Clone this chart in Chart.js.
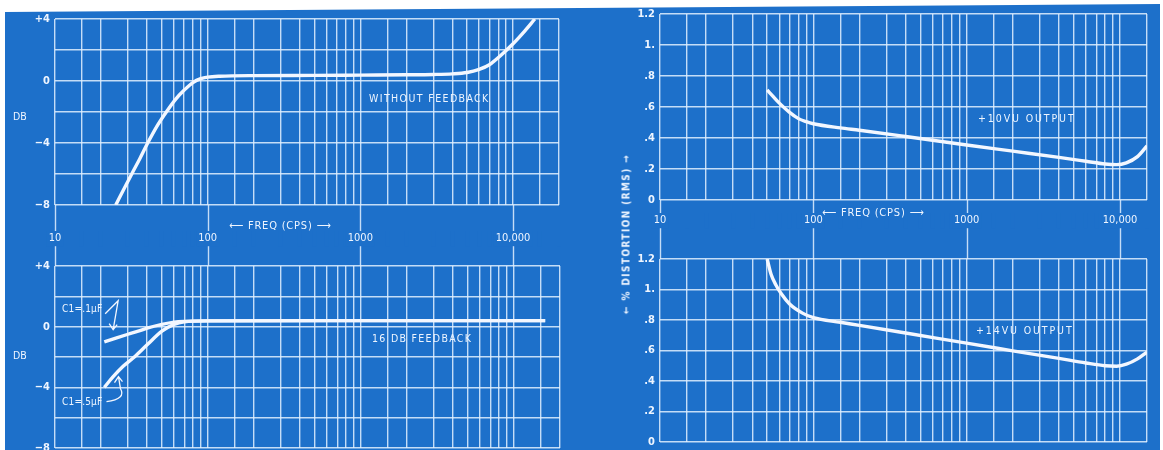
<!DOCTYPE html>
<html>
<head>
<meta charset="utf-8">
<script src="https://cdn.jsdelivr.net/npm/chart.js@4.4.1/dist/chart.umd.min.js"></script>
<style>
  html, body { margin: 0; padding: 0; background: #fff; }
  #page { position: relative; width: 1163px; height: 450px; overflow: hidden; background: #fff; }
  #sheet { position: absolute; left: 5px; top: 4px; width: 1155px; height: 446px; background: #1d70ca;
           clip-path: polygon(0 8px, 100% 0, 100% 100%, 0 100%); }
  .box { position: absolute; }
  .note { position: absolute; color: #eef5ff; font-family: 'DejaVu Sans Condensed', 'DejaVu Sans', sans-serif;
          font-size: 10.5px; white-space: nowrap; letter-spacing: 1px; }
</style>
</head>
<body>
<div id="page">
  <div id="sheet"></div>
  <div class="box" style="left:0;top:258px"><canvas id="bl" width="580" height="192"></canvas></div>
  <div class="box" style="left:0;top:0"><canvas id="tl" width="580" height="266"></canvas></div>
  <div class="box" style="left:580px;top:250px"><canvas id="br" width="583" height="200"></canvas></div>
  <div class="box" style="left:580px;top:0"><canvas id="tr" width="583" height="259"></canvas></div>

  <div class="note" style="left:13px;top:110px;letter-spacing:0">DB</div>
  <div class="note" style="left:13px;top:349px;letter-spacing:0">DB</div>
  <div class="note" style="left:369px;top:92px;letter-spacing:1.4px">WITHOUT FEEDBACK</div>
  <div class="note" style="left:372px;top:332px;letter-spacing:1.3px">16 DB FEEDBACK</div>
  <div class="note" style="left:62px;top:303px;font-size:10px;letter-spacing:0.2px">C1=.1µF</div>
  <div class="note" style="left:62px;top:396px;font-size:10px;letter-spacing:0.2px">C1=.5µF</div>
  <div class="note" style="left:229px;top:219px;font-size:11px;letter-spacing:0.8px">⟵ FREQ (CPS) ⟶</div>
  <div class="note" style="left:822px;top:206px;font-size:11px;letter-spacing:0.8px">⟵ FREQ (CPS) ⟶</div>
  <div class="note" style="left:978px;top:112px;letter-spacing:1.9px">+10VU OUTPUT</div>
  <div class="note" style="left:976px;top:324px;letter-spacing:1.9px">+14VU OUTPUT</div>
  <div class="note" style="left:626px;top:234px;font-size:10px;font-weight:bold;letter-spacing:1.4px;transform:translate(-50%,-50%) rotate(-90deg)">← % DISTORTION (RMS) →</div>
</div>

<script>
// gridlines: 1, 1.5, 2 ... 9 in each decade
const gridSteps = [1, 1.5, 2, 3, 4, 5, 6, 7, 8, 9];
const decades = [10, 100, 1000, 10000];
const freqLabels = { 10: '10', 100: '100', 1000: '1000', 10000: '10,000' };
const dbLabels = { '4': '+4', '0': '0', '-4': '−4', '-8': '−8' };
const distLabels = { '1.2': '1.2', '1': '1.', '0.8': '.8', '0.6': '.6', '0.4': '.4', '0.2': '.2', '0': '0' };

// response without feedback
const noFbFreq = [25, 28, 32, 36, 40, 47, 54, 62, 70, 80, 90, 100, 120, 200, 500, 1000, 2000, 3000, 4000, 5000, 6000, 7000, 8200, 10000, 12000, 13900];
const noFbDb   = [-8, -7.05, -5.95, -5.0, -4.1, -2.85, -1.95, -1.15, -0.6, -0.1, 0.15, 0.25, 0.31, 0.35, 0.36, 0.38, 0.4, 0.42, 0.46, 0.55, 0.75, 1.05, 1.6, 2.4, 3.25, 4];

// 16 db feedback, two coupling caps
const c1aFreq = [21, 25, 30, 35, 40, 50, 60, 70, 100, 1000, 10000, 16000];
const c1aDb   = [-1.0, -0.75, -0.5, -0.3, -0.1, 0.15, 0.3, 0.35, 0.38, 0.4, 0.4, 0.4];
const c1bFreq = [21, 24, 28, 33, 40, 50, 60, 70, 100, 1000, 10000, 16000];
const c1bDb   = [-4.0, -3.3, -2.6, -2.0, -1.2, -0.3, 0.15, 0.32, 0.38, 0.4, 0.4, 0.4];

// distortion
const vu10Freq = [50, 55, 60, 70, 80, 90, 100, 150, 200, 400, 1000, 2000, 4000, 6000, 8000, 9500, 11000, 13000, 15000];
const vu10Dist = [0.71, 0.665, 0.625, 0.565, 0.525, 0.505, 0.492, 0.465, 0.45, 0.41, 0.355, 0.315, 0.275, 0.25, 0.232, 0.228, 0.24, 0.28, 0.35];
const vu14Freq = [50, 53, 57, 62, 70, 85, 100, 150, 200, 400, 1000, 2000, 4000, 6000, 8000, 9500, 11000, 13000, 15000];
const vu14Dist = [1.2, 1.1, 1.03, 0.97, 0.905, 0.845, 0.815, 0.785, 0.765, 0.715, 0.648, 0.598, 0.548, 0.518, 0.5, 0.497, 0.51, 0.545, 0.59];

const blue = '#1d70ca';
const gridColor = 'rgba(226,240,255,0.85)';
const inkColor = '#f3f7ff';
const textColor = '#eef5ff';
const fontFamily = "'DejaVu Sans Condensed', 'DejaVu Sans', sans-serif";

const freqGrid = [];
decades.forEach(d => gridSteps.forEach(s => freqGrid.push(d * s)));

// decade lines run on through the label band between panels
const bandLines = {
  id: 'bandLines',
  beforeDraw(chart, args, o) {
    if (!o.dir) return;
    const { ctx, chartArea: a, scales: { x } } = chart;
    ctx.save();
    ctx.strokeStyle = gridColor;
    ctx.lineWidth = 1.4;
    decades.forEach(d => {
      const px = Math.round(x.getPixelForValue(d)) + 0.5;
      ctx.beginPath();
      if (o.dir === 'down') { ctx.moveTo(px, a.bottom); ctx.lineTo(px, chart.height); }
      else { ctx.moveTo(px, 0); ctx.lineTo(px, a.top); }
      ctx.stroke();
    });
    ctx.restore();
  }
};

// little hand drawn pointers from the C1 notes to the curves
const c1Arrows = {
  id: 'c1Arrows',
  afterDatasetsDraw(chart, args, o) {
    if (!o.show) return;
    const { ctx, scales: { x, y } } = chart;
    ctx.save();
    ctx.strokeStyle = inkColor;
    ctx.lineWidth = 1.3;
    // .1 uF: pointer comes down onto the upper curve
    let tx = x.getPixelForValue(24), ty = y.getPixelForValue(-0.2);
    ctx.beginPath();
    ctx.moveTo(tx - 8, ty - 16); ctx.lineTo(tx + 5, ty - 29); ctx.lineTo(tx, ty);
    ctx.moveTo(tx - 4, ty - 6); ctx.lineTo(tx, ty); ctx.lineTo(tx + 4, ty - 5);
    ctx.stroke();
    // .5 uF: pointer curls up onto the lower curve
    tx = x.getPixelForValue(26); ty = y.getPixelForValue(-3.3);
    ctx.beginPath();
    ctx.moveTo(tx - 12, ty + 25);
    ctx.quadraticCurveTo(tx + 8, ty + 22, tx + 2, ty + 12);
    ctx.lineTo(tx, ty);
    ctx.moveTo(tx - 4, ty + 6); ctx.lineTo(tx, ty); ctx.lineTo(tx + 4, ty + 5);
    ctx.stroke();
    ctx.restore();
  }
};

function series(f, v) {
  return {
    data: f.map((fr, i) => ({ x: fr, y: v[i] })),
    borderColor: inkColor,
    borderWidth: 3.4,
    pointRadius: 0,
    cubicInterpolationMode: 'monotone',
    fill: false
  };
}

function panel(id, o) {
  return new Chart(document.getElementById(id), {
    type: 'line',
    data: { datasets: o.series },
    plugins: [bandLines, c1Arrows],
    options: {
      responsive: false,
      animation: false,
      layout: { padding: { left: 0, top: o.top, right: o.right, bottom: o.bottom } },
      plugins: {
        legend: { display: false },
        tooltip: { enabled: false },
        bandLines: { dir: o.band },
        c1Arrows: { show: !!o.arrows }
      },
      scales: {
        x: {
          type: 'logarithmic',
          min: 10,
          max: o.xMax,
          afterBuildTicks: s => { s.ticks = freqGrid.filter(v => v <= o.xMax).map(v => ({ value: v })); },
          afterFit: s => { s.height = o.xH; s.paddingLeft = 0; s.paddingRight = 0; },
          grid: { color: gridColor, lineWidth: 1.4, drawTicks: false },
          border: { display: false },
          ticks: {
            display: o.xLabels,
            autoSkip: false,
            maxRotation: 0,
            padding: o.xPad,
            color: textColor,
            font: { family: fontFamily, size: 11 },
            showLabelBackdrop: true,
            backdropColor: blue,
            backdropPadding: { x: 2, y: 1 },
            callback: v => freqLabels[v] || ''
          }
        },
        y: {
          min: o.yMin,
          max: o.yMax,
          afterFit: s => { s.width = o.yW; s.paddingTop = 0; s.paddingBottom = 0; },
          grid: { color: gridColor, lineWidth: 1.4, drawTicks: false },
          border: { display: false },
          ticks: {
            stepSize: o.yStep,
            autoSkip: false,
            padding: 5,
            color: textColor,
            font: { family: fontFamily, size: 11, weight: 'bold' },
            callback: v => o.yLabels[String(Math.round(v * 10) / 10)] || ''
          }
        }
      }
    }
  });
}

panel('tl', {
  series: [series(noFbFreq, noFbDb)],
  top: 19, right: 21, bottom: 0, xH: 61, yW: 55, xMax: 20000, xLabels: true, xPad: 27,
  yMin: -8, yMax: 4, yStep: 2, yLabels: dbLabels, band: 'down'
});
panel('bl', {
  series: [series(c1aFreq, c1aDb), series(c1bFreq, c1bDb)],
  top: 8, right: 20, bottom: 2, xH: 0, yW: 55, xMax: 20000, xLabels: false, xPad: 0,
  yMin: -8, yMax: 4, yStep: 2, yLabels: dbLabels, arrows: true
});
panel('tr', {
  series: [series(vu10Freq, vu10Dist)],
  top: 14, right: 16, bottom: 0, xH: 59, yW: 80, xMax: 15000, xLabels: true, xPad: 14,
  yMin: 0, yMax: 1.2, yStep: 0.2, yLabels: distLabels, band: 'down'
});
panel('br', {
  series: [series(vu14Freq, vu14Dist)],
  top: 9, right: 16, bottom: 8, xH: 0, yW: 80, xMax: 15000, xLabels: false, xPad: 0,
  yMin: 0, yMax: 1.2, yStep: 0.2, yLabels: distLabels
});
</script>
</body>
</html>
